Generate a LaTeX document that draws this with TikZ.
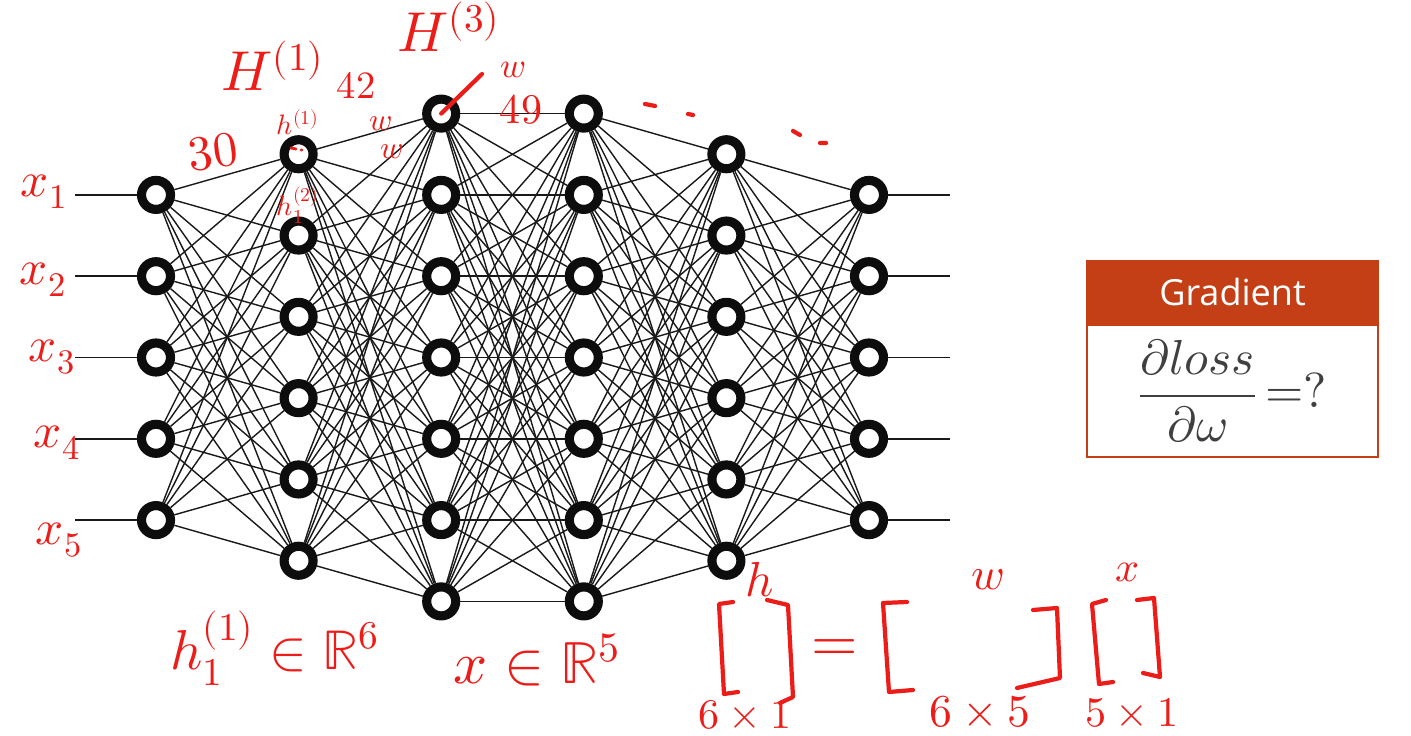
\documentclass[tikz,border=0pt]{standalone}
\usepackage{fontspec}
\usepackage{unicode-math}
\usetikzlibrary{positioning}
\newfontfamily\gradfont{Open Sans}
\definecolor{Ink}{RGB}{236,28,24}
\definecolor{Brick}{RGB}{196,62,22}
\definecolor{Slate}{RGB}{64,64,64}

\begin{document}
\begin{tikzpicture}[x=.02cm,y=-.02cm,
 nd/.style={circle,draw=black!95,line width=5.2pt,fill=white,minimum size=.58cm,inner sep=0pt},
 ln/.style={line width=.8pt,black!90},
 hw/.style={text=Ink,inner sep=0pt,font=\fontsize{28}{30}\selectfont},
 mk/.style={draw=Ink,line width=2.4pt,line cap=round,line join=round},
 hd/.style={fill=Brick,draw=Brick,line width=1.2pt,minimum width=5.82cm,minimum height=1.24cm,text=white,font=\gradfont\fontsize{20.5}{24}\selectfont},
 bd/.style={draw=Brick,line width=1.2pt,fill=white,minimum width=5.82cm,minimum height=2.64cm,text=Slate,font=\fontsize{28}{32}\selectfont}]
\useasboundingbox (0,0) rectangle (1411,736);
% neurons, layer by layer
\foreach \l/\n in {1/5,2/6,3/7,4/7,5/6,6/5}
 \foreach \i in {1,...,\n}
  \node[nd] (n\l-\i) at ({156+(\l-1)*142.6},{357.5+(\i-(\n+1)/2)*81.3}) {};
% full connections
\foreach \l/\k/\n/\m in {1/2/5/6,2/3/6/7,3/4/7/7,4/5/7/6,5/6/6/5}
 \foreach \i in {1,...,\n}
  \foreach \j in {1,...,\m}
   \draw[ln] (n\l-\i) -- (n\k-\j);
% inputs and outputs
\foreach \i in {1,...,5} {
 \coordinate (in\i) at (75,{357.5+(\i-3)*81.3});
 \coordinate (out\i) at (950,{357.5+(\i-3)*81.3});
 \draw[ln] (in\i) -- (n1-\i);
 \draw[ln] (n6-\i) -- (out\i);
}
% handwritten notes
\node[hw] (x1) at (44,192) {$x_1$};
\node[hw] (x2) at (43,280) {$x_2$};
\node[hw] (x3) at (52,357) {$x_3$};
\node[hw] (x4) at (57,443) {$x_4$};
\node[hw] (x5) at (59,540) {$x_5$};
\node[hw,rotate=8] (c30) at (213,152) {$30$};
\node[hw,font=\fontsize{32}{34}\selectfont] (H1) at (273,66) {$H^{(1)}$};
\node[hw,font=\fontsize{32}{34}\selectfont] (H3) at (449,27) {$H^{(3)}$};
\node[hw,font=\fontsize{16}{18}\selectfont] (h11) at (298,122) {$h^{(1)}$};
\node[hw,font=\fontsize{16}{18}\selectfont] (h21) at (298,205) {$h^{(2)}_1$};
\node[hw,font=\fontsize{22}{24}\selectfont] (c42) at (356,85) {$42$};
\node[hw,font=\fontsize{18}{20}\selectfont] (w1) at (381,124) {$w$};
\node[hw,font=\fontsize{18}{20}\selectfont] (w2) at (392,152) {$w$};
\node[hw,font=\fontsize{20}{22}\selectfont] (w3) at (513,70) {$w$};
\node[hw,font=\fontsize{24}{26}\selectfont] (c49) at (521,110) {$49$};
\coordinate (wtip) at (482,74);
\draw[mk] (wtip) -- (n3-1.center);
\draw[mk,line width=1.6pt] (291,148) -- (296,149) (301,150) -- (302,150);
\draw[mk] (645,104) -- (655,106) (688,114) -- (693,115) (793,131) -- (800,135) (820,143) -- (826,143);
\node[hw,font=\fontsize{32}{34}\selectfont] (hR) at (275,648) {$h_1^{(1)}\in\mathbb{R}^6$};
\node[hw,font=\fontsize{34}{36}\selectfont] (xR) at (537,660) {$x\in\mathbb{R}^5$};
% h = W x
\draw[mk] (733,602) -- (719,604) -- (724,694) -- (738,692);
\draw[mk] (767,600) -- (788,605) -- (793,697) -- (780,703);
\draw[mk] (907,602) -- (883,603) -- (889,692) -- (913,690);
\draw[mk] (1033,610) -- (1057,608) -- (1060,678) -- (1017,688);
\draw[mk] (1106,600) -- (1092,604) -- (1099,684) -- (1113,682);
\draw[mk] (1137,600) -- (1154,598) -- (1160,677) -- (1143,673);
\node[hw] (hv) at (760,580) {$h$};
\node[hw,font=\fontsize{24}{26}\selectfont] (hs) at (745,715) {$6\times1$};
\node[hw,font=\fontsize{34}{36}\selectfont] (eq) at (835,651) {$=$};
\node[hw,font=\fontsize{26}{28}\selectfont] (wv) at (988,580) {$w$};
\node[hw,font=\fontsize{26}{28}\selectfont] (ws) at (980,712) {$6\times5$};
\node[hw,font=\fontsize{24}{26}\selectfont] (xv) at (1128,572) {$x$};
\node[hw,font=\fontsize{24}{26}\selectfont] (xs) at (1132,713) {$5\times1$};
% gradient box
\node[hd] (grad) at (1232.5,292) {Gradient};
\node[bd,below=0pt of grad] (loss) {$\displaystyle\frac{\partial loss}{\partial\omega}\,{=}?$};
\end{tikzpicture}
\end{document}
